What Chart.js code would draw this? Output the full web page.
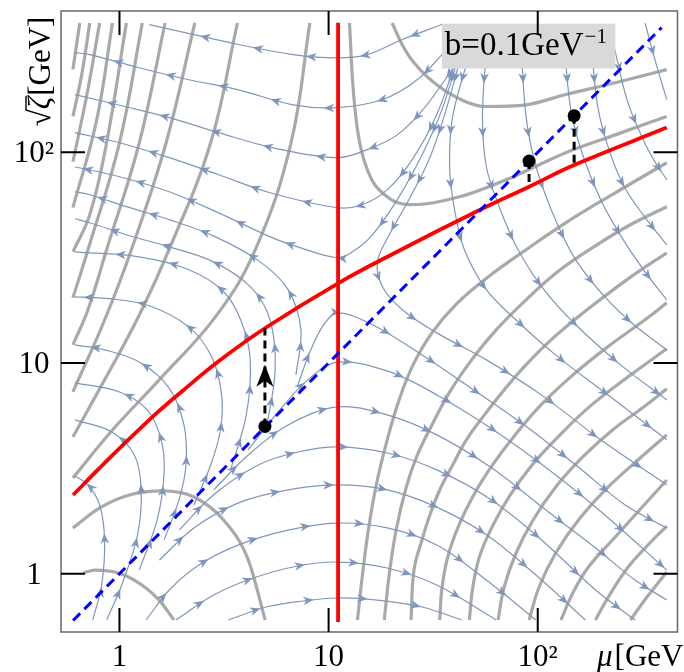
<!DOCTYPE html>
<html>
<head>
<meta charset="utf-8">
<script src="https://cdn.jsdelivr.net/npm/chart.js@4.4.1/dist/chart.umd.min.js"></script>
<style>
  html, body { margin: 0; padding: 0; background: #fff; }
  canvas { display: block; }
</style>
</head>
<body>
<canvas id="evolucion" width="684" height="672"></canvas>
<script>
// Valores: pares [mu, sqrt(zeta)] en GeV
const tickValues = [1, 10, 100];
const tickLabels = ['1', '10', '10²'];

const criticalLine = [[0.6, 2.363], [0.8, 3.159], [1.0, 3.932], [1.5, 5.766], [2.0, 7.37], [3.0, 10.25], [5.0, 14.7],
  [11.1, 23.9], [21.26, 33.75], [52.7, 53.2], [90.9, 68.66], [149.3, 87.0], [414, 131]];
const thresholdLine = [[11.1, 0.59], [11.1, 412]];
const diagonal = [[0.6, 0.6], [391, 391]];
const startPoints = [[4.96, 5.0], [90.9, 90.9], [149.3, 149.3]];
const endZeta = [14.6, 68.7, 87.0];
const liftArrow = [4.96, 9.8];

const contoursUpperLeft = [
  [[0.646, 411], [0.599, 247]],
  [[0.721, 411], [0.660, 234], [0.599, 148]],
  [[0.804, 411], [0.699, 188], [0.599, 90.3]],
  [[0.926, 411], [0.779, 143], [0.599, 54.6]],
  [[1.079, 411], [0.868, 111], [0.721, 50.5], [0.599, 33.7]],
  [[1.286, 411], [1.0, 111], [0.707, 34.5], [0.599, 20.4]],
  [[1.653, 411], [1.244, 111], [0.868, 34.5], [0.707, 17.9], [0.599, 12.2]],
  [[2.293, 411], [1.671, 111], [1.140, 34.5], [0.849, 16.0], [0.599, 7.30]],
  [[3.666, 411], [2.730, 111], [1.726, 34.5], [1.244, 16.9], [0.849, 8.32], [0.599, 4.46]],
  [[8.135, 411], [6.61, 111], [4.462, 34.5], [2.882, 16.6], [1.548, 8.32], [0.926, 4.81], [0.599, 2.85]]
];
const contoursLowerLeft = [
  [[0.599, 1.648], [0.804, 2.051], [1.115, 2.365], [1.600, 2.470], [2.268, 2.314], [3.146, 1.799], [4.133, 1.161], [4.977, 0.603]],
  [[0.669, 1.008], [0.762, 1.041], [0.947, 1.019], [1.178, 0.933], [1.548, 0.750], [1.823, 0.603]]
];
const contoursSaddle = [
  [[12.59, 411], [13.01, 221], [13.74, 128], [15.32, 82.7], [19.06, 61.5], [25.61, 56.4], [42.26, 61.5],
    [76.28, 76.6], [136, 99.6], [234.8, 121], [414, 148]],
  [[20.14, 411], [22.46, 325], [25.61, 266], [35.57, 198], [56.8, 165], [87.9, 168], [136, 188], [234.8, 214], [414, 247]]
];
const contoursLowerRight = [
  [[13.74, 0.603], [14.51, 0.986], [15.49, 1.613], [16.9, 2.638], [19.06, 4.315], [21.73, 6.683], [25.34, 9.799],
    [31.2, 13.91], [40.9, 19.1], [58.05, 25.66], [87.9, 34.48], [136, 46.3], [234.8, 64.27], [414, 89.23]],
  [[18.46, 0.603], [19.48, 0.986], [21.03, 1.613], [23.45, 2.552], [26.45, 3.622], [31.2, 5.084], [37.96, 7.295],
    [48.3, 10.35], [63.3, 14.37], [87.9, 19.95], [126.3, 27.4], [188.7, 36.0], [277.3, 45.3], [414, 55.16]],
  [[24.79, 0.603], [25.6, 1.041], [27.95, 1.445], [30.5, 1.900], [33.99, 2.497], [39.2, 3.283], [45.6, 4.315], [55.6, 5.672],
    [69.1, 7.455], [86.9, 9.69], [111.7, 12.47], [150, 16.03], [204.2, 20.39], [283.4, 25.93], [414, 33.35]],
  [[33.99, 0.603], [34.8, 0.846], [37.1, 1.20], [41.8, 1.684], [49.4, 2.365], [60.8, 3.283], [77.9, 4.558], [103.7, 6.327],
    [145.6, 8.69], [212.8, 11.8], [325.8, 16.03], [414, 19.3]],
  [[47.1, 0.603], [48.8, 0.846], [52.6, 1.20], [60.8, 1.684], [73.9, 2.365], [94.0, 3.283], [127.7, 4.558], [181, 6.327],
    [274.3, 8.69], [414, 11.68]],
  [[64.6, 0.603], [69.1, 0.865], [78.8, 1.254], [95.0, 1.799], [121.9, 2.581], [164.1, 3.582], [227.8, 4.814], [316.1, 6.12], [414, 7.54]],
  [[90.97, 0.603], [101.5, 0.865], [121.9, 1.254], [156.7, 1.799], [217.5, 2.581], [301.7, 3.467], [414, 4.558]],
  [[129.1, 0.603], [147.2, 0.81], [174.8, 1.076], [234.8, 1.494], [316.1, 2.074], [414, 2.786]],
  [[188.7, 0.603], [217.5, 0.775], [270.6, 1.076], [336.6, 1.369], [414, 1.684]],
  [[277.3, 0.603], [333, 0.775], [414, 1.019]]
];

// Líneas de flujo, en el sentido de la flecha
const streamsLeft = [
  [[34.8, 404], [22.5, 343], [15.3, 291], [11.0, 281], [6.76, 291], [3.71, 325], [2.27, 362], [1.39, 404]],
  [[36.7, 307], [26.5, 221], [18.1, 178], [11.0, 163], [6.76, 168], [3.71, 198], [2.15, 221], [1.24, 252], [0.721, 291], [0.612, 297]],
  [[45.1, 307], [29.5, 168], [21.3, 121], [15.3, 103], [11.0, 94.3], [5.43, 105], [2.98, 124], [1.73, 146], [1.06, 165], [0.612, 188]],
  [[42.3, 307], [32.9, 151], [25.1, 92.3], [19.1, 66.5], [14.5, 56.4], [11.0, 54.6], [5.26, 64.3], [2.98, 78.3], [1.73, 94.3], [1.0, 111], [0.612, 124]],
  [[42.8, 307], [34.8, 159], [28.0, 97.4], [21.3, 59.6], [16.2, 40.6], [13.0, 33.7], [11.0, 31.6], [7.13, 35.6], [5.26, 39.7],
    [2.98, 51.6], [1.73, 65.0], [1.0, 76.6], [0.612, 85.4]]
];
const streamsTop = [
  [[43.8, 307], [35.9, 151], [30.2, 92.3], [24.2, 59.6], [19.5, 40.6], [17.1, 30.2], [18.1, 23.0], [22.5, 17.9], [32.9, 13.9],
    [56.8, 10.35], [104, 7.06], [200, 4.32], [414, 2.64]],
  [[47.8, 307], [39.2, 148], [37.9, 85.4], [40.0, 53.4], [44.6, 34.5], [56.8, 22.3], [78.8, 16.0], [122, 10.9], [210, 7.22], [414, 4.32]],
  [[56.8, 307], [54.4, 148], [56.8, 85.4], [65.4, 55.2], [80.5, 34.5], [107, 22.3], [152, 15.2], [249, 9.8], [414, 6.68]],
  [[83.4, 307], [87.9, 148], [97, 89.2], [116, 53.4], [147, 32.6], [195, 22.3], [277, 15.7], [414, 11.55]],
  [[134.5, 307], [144, 159], [164, 97.4], [200, 59.6], [256, 38.5], [326, 27.1], [414, 19.95]],
  [[181, 307], [193, 168], [215, 109], [256, 70.2], [319, 50.5], [414, 36.4]],
  [[227.8, 343], [267, 178], [319, 115], [363, 90.3], [414, 74.2]],
  [[326, 411], [363, 276], [414, 178]]
];
const streamsRight = [
  [[7.13, 7.87], [8.14, 11.3], [9.48, 15.2], [11.04, 17.3], [16.2, 15.2], [26.5, 11.3], [45.6, 7.87], [83.4, 5.2], [152, 3.28], [262, 2.12], [414, 1.648]],
  [[4.13, 3.87], [5.74, 5.87], [7.96, 8.32], [11.04, 10.1], [19.5, 9.1], [33.6, 6.98], [63.3, 4.72], [122, 2.94], [223, 1.8], [414, 1.04]],
  [[2.82, 2.50], [4.13, 3.66], [6.40, 5.08], [11.04, 6.19], [19.06, 5.67], [32.9, 4.56], [60.1, 3.18], [109, 2.01], [189, 1.325], [292, 0.933], [414, 0.75]],
  [[1.93, 1.61], [2.82, 2.37], [4.61, 3.28], [7.13, 3.78], [11.04, 4.0], [19.06, 3.74], [32.9, 3.11], [60.1, 2.24], [104, 1.45], [189, 0.837], [292, 0.603]],
  [[1.55, 1.16], [2.27, 1.65], [3.71, 2.17], [6.40, 2.50], [11.04, 2.64], [19.06, 2.50], [32.9, 2.07], [56.8, 1.53], [98.0, 0.986], [169, 0.603]],
  [[1.34, 0.603], [1.73, 0.837], [2.40, 1.10], [3.71, 1.37], [6.40, 1.61], [11.04, 1.74], [19.06, 1.65], [32.9, 1.37], [56.8, 0.933], [98.0, 0.603]],
  [[1.86, 0.603], [2.82, 0.792], [4.37, 0.954], [7.13, 1.088], [11.04, 1.136], [19.06, 1.064], [32.9, 0.884], [63.3, 0.603]],
  [[3.32, 0.603], [5.03, 0.695], [7.54, 0.742], [11.04, 0.767], [17.1, 0.750], [27.95, 0.695], [43.3, 0.603]]
];
const streamsRising = [
  [[0.745, 0.603], [0.822, 0.884], [0.849, 1.445], [0.804, 2.12], [0.707, 2.64], [0.612, 2.91]],
  [[0.868, 0.603], [1.034, 0.904], [1.22, 1.527], [1.27, 2.50], [1.178, 3.66], [0.915, 4.72], [0.612, 5.37]],
  [[1.244, 1.041], [1.514, 1.80], [1.635, 3.01], [1.583, 4.32], [1.357, 5.99], [1.0, 7.29], [0.612, 8.05]],
  [[1.635, 1.445], [1.925, 2.24], [2.08, 3.28], [2.034, 5.08], [1.726, 7.62], [1.244, 10.1], [0.849, 11.55], [0.612, 12.2]],
  [[2.27, 2.12], [2.73, 3.28], [3.04, 4.81], [3.08, 7.06], [2.76, 10.7], [2.15, 14.8], [1.39, 18.7], [0.897, 20.2], [0.612, 20.6]],
  [[3.40, 3.11], [4.04, 5.67], [4.22, 10.35], [3.83, 15.7], [3.15, 21.8], [2.15, 27.7], [1.24, 31.9], [0.612, 33.7]],
  [[5.03, 4.81], [5.55, 9.28], [5.25, 16.0], [4.27, 22.8], [2.82, 30.2], [1.73, 35.6], [1.115, 40.2], [0.721, 46.3], [0.612, 48.4]],
  [[6.98, 8.78], [7.37, 14.4], [6.40, 22.3], [4.71, 30.2], [2.88, 39.7], [1.73, 47.9], [1.08, 55.2], [0.721, 62.9], [0.612, 65.0]]
];

const labelBox = { muMin: 34.8, muMax: 235, zetaMin: 250, zetaMax: 408 };

const GRIS = '#a9a9a9';
const FLUJO = 'rgb(126,150,188)';
const SERIF = '"Liberation Serif", "DejaVu Serif", serif';

document.addEventListener('DOMContentLoaded', () => {
  const toXY = pts => pts.map(([x, y]) => ({ x, y }));
  const datasets = [];

  // 1. Curvas y líneas principales (orden bajo = encima)
  datasets.push({ data: toXY(startPoints), showLine: false, pointRadius: 6.5, pointBackgroundColor: '#000', pointBorderWidth: 0, order: 0 });
  startPoints.forEach(([mu, z], i) => {
    datasets.push({ data: toXY([[mu, z], [mu, endZeta[i]]]), borderColor: '#000', borderWidth: 3, borderDash: [8, 5], order: 1 });
  });
  datasets.push({ data: toXY(diagonal), borderColor: '#0000ff', borderWidth: 3, borderDash: [10, 6], order: 2 });
  datasets.push({ data: toXY(criticalLine), borderColor: '#ff0000', borderWidth: 3.8, tension: 0.4, order: 3 });
  datasets.push({ data: toXY(thresholdLine), borderColor: '#ff0000', borderWidth: 3.8, order: 3 });

  // 2. Líneas de flujo con flechas
  [...streamsLeft, ...streamsTop, ...streamsRight, ...streamsRising].forEach(s => {
    datasets.push({ data: toXY(s), borderColor: FLUJO, borderWidth: 1.2, tension: 0.35, order: 5, isStream: true });
  });

  // 3. Curvas de nivel
  [...contoursUpperLeft, ...contoursLowerRight].forEach(c => {
    datasets.push({ data: toXY(c), borderColor: GRIS, borderWidth: 3.2, tension: 0.4, order: 6 });
  });
  [...contoursLowerLeft, ...contoursSaddle].forEach(c => {
    datasets.push({ data: toXY(c), borderColor: GRIS, borderWidth: 3.2, cubicInterpolationMode: 'monotone', order: 6 });
  });

  datasets.forEach(d => {
    if (d.showLine === undefined) { d.showLine = true; d.pointRadius = 0; }
    d.pointHoverRadius = 0;
    d.fill = false;
  });

  function arrowHead(ctx, x, y, ang, len, half) {
    ctx.save();
    ctx.translate(x, y);
    ctx.rotate(ang);
    ctx.beginPath();
    ctx.moveTo(0, 0);
    ctx.lineTo(-len, -half);
    ctx.lineTo(-len * 0.72, 0);
    ctx.lineTo(-len, half);
    ctx.closePath();
    ctx.fill();
    ctx.restore();
  }

  // muestrea la curva bezier que dibuja Chart.js para poner las flechas encima
  function sampleCurve(points) {
    const out = [];
    for (let i = 0; i < points.length - 1; i++) {
      const a = points[i], b = points[i + 1];
      const c1x = a.cp2x ?? a.x, c1y = a.cp2y ?? a.y;
      const c2x = b.cp1x ?? b.x, c2y = b.cp1y ?? b.y;
      for (let k = 0; k < 16; k++) {
        const t = k / 16, u = 1 - t;
        out.push({
          x: u * u * u * a.x + 3 * u * u * t * c1x + 3 * u * t * t * c2x + t * t * t * b.x,
          y: u * u * u * a.y + 3 * u * u * t * c1y + 3 * u * t * t * c2y + t * t * t * b.y
        });
      }
    }
    const last = points[points.length - 1];
    out.push({ x: last.x, y: last.y });
    return out;
  }

  const streamArrows = {
    id: 'streamArrows',
    afterDatasetDraw(chart, args) {
      if (!chart.data.datasets[args.index].isStream) return;
      const { ctx, chartArea: ca } = chart;
      const s = sampleCurve(args.meta.data);
      ctx.save();
      ctx.beginPath();
      ctx.rect(ca.left, ca.top, ca.right - ca.left, ca.bottom - ca.top);
      ctx.clip();
      ctx.fillStyle = FLUJO;
      let acc = 0, next = 34;
      for (let i = 1; i < s.length; i++) {
        const dx = s[i].x - s[i - 1].x, dy = s[i].y - s[i - 1].y, d = Math.hypot(dx, dy);
        while (d > 0 && acc + d >= next) {
          const t = (next - acc) / d;
          arrowHead(ctx, s[i - 1].x + dx * t, s[i - 1].y + dy * t, Math.atan2(dy, dx), 10.5, 4.3);
          next += 54;
        }
        acc += d;
      }
      ctx.restore();
    }
  };

  const frameAndLabels = {
    id: 'frameAndLabels',
    afterDatasetsDraw(chart) {
      const { ctx, scales: { x, y } } = chart;
      // flecha negra sobre la línea de mu = 5
      ctx.fillStyle = '#000';
      arrowHead(ctx, x.getPixelForValue(liftArrow[0]), y.getPixelForValue(liftArrow[1]), -Math.PI / 2, 22, 8.5);

      // recuadro con el valor de b
      const bx0 = x.getPixelForValue(labelBox.muMin), bx1 = x.getPixelForValue(labelBox.muMax);
      const by0 = y.getPixelForValue(labelBox.zetaMax), by1 = y.getPixelForValue(labelBox.zetaMin);
      ctx.fillStyle = '#d9d9d9';
      ctx.fillRect(bx0, by0, bx1 - bx0, by1 - by0);
      ctx.fillStyle = '#000';
      ctx.textAlign = 'left';
      ctx.textBaseline = 'alphabetic';
      ctx.font = '33px ' + SERIF;
      ctx.fillText('b=0.1GeV', bx0 + 3, by0 + 31);
      const w = ctx.measureText('b=0.1GeV').width;
      ctx.font = '21px ' + SERIF;
      ctx.fillText('\u22121', bx0 + 3 + w + 1, by0 + 19);
    },
    afterDraw(chart) {
      const { ctx, chartArea: ca, scales: { x, y } } = chart;
      ctx.save();
      ctx.strokeStyle = '#666';
      ctx.lineWidth = 1.5;
      ctx.strokeRect(ca.left, ca.top, ca.right - ca.left, ca.bottom - ca.top);

      ctx.strokeStyle = '#000';
      ctx.lineWidth = 2;
      ctx.fillStyle = '#000';
      ctx.font = '31px ' + SERIF;
      ctx.textBaseline = 'alphabetic';
      ctx.textAlign = 'center';
      tickValues.forEach((v, i) => {
        const px = x.getPixelForValue(v);
        ctx.beginPath();
        ctx.moveTo(px, ca.bottom); ctx.lineTo(px, ca.bottom - 24);
        ctx.moveTo(px, ca.top); ctx.lineTo(px, ca.top + 24);
        ctx.stroke();
        ctx.fillText(tickLabels[i], px, ca.bottom + 34);

        const py = y.getPixelForValue(v);
        ctx.beginPath();
        ctx.moveTo(ca.left, py); ctx.lineTo(ca.left + 24, py);
        ctx.moveTo(ca.right, py); ctx.lineTo(ca.right - 24, py);
        ctx.stroke();
        ctx.fillText(tickLabels[i], 34, py + 10);
      });

      // títulos de los ejes
      ctx.textAlign = 'left';
      ctx.font = 'italic 31px ' + SERIF;
      ctx.fillText('μ', 597, ca.bottom + 34);
      const wm = ctx.measureText('μ').width;
      ctx.font = '31px ' + SERIF;
      ctx.fillText('[GeV]', 597 + wm + 2, ca.bottom + 34);

      ctx.translate(50, 72);
      ctx.rotate(-Math.PI / 2);
      ctx.font = '31px ' + SERIF;
      const wr = ctx.measureText('√').width;
      ctx.font = 'italic 31px ' + SERIF;
      const wz = ctx.measureText('ζ').width;
      ctx.font = '31px ' + SERIF;
      const wg = ctx.measureText('[GeV]').width;
      const x0 = -(wr + wz + wg) / 2;
      ctx.fillText('√', x0, 0);
      ctx.font = 'italic 31px ' + SERIF;
      ctx.fillText('ζ', x0 + wr, 0);
      ctx.font = '31px ' + SERIF;
      ctx.fillText('[GeV]', x0 + wr + wz + 1, 0);
      ctx.lineWidth = 1.4;
      ctx.beginPath();
      ctx.moveTo(x0 + wr - 1, -24);
      ctx.lineTo(x0 + wr + wz + 1, -24);
      ctx.stroke();
      ctx.restore();
    }
  };

  new Chart(document.getElementById('evolucion'), {
    type: 'scatter',
    data: { datasets },
    options: {
      responsive: false,
      animation: false,
      devicePixelRatio: 1,
      layout: { padding: { left: 61, top: 11, right: 1, bottom: 40 } },
      plugins: { legend: { display: false }, tooltip: { enabled: false } },
      scales: {
        x: { type: 'logarithmic', min: 0.5253, max: 465.9, display: false },
        y: { type: 'logarithmic', min: 0.5289, max: 468.5, display: false }
      }
    },
    plugins: [streamArrows, frameAndLabels]
  });
});
</script>
</body>
</html>
